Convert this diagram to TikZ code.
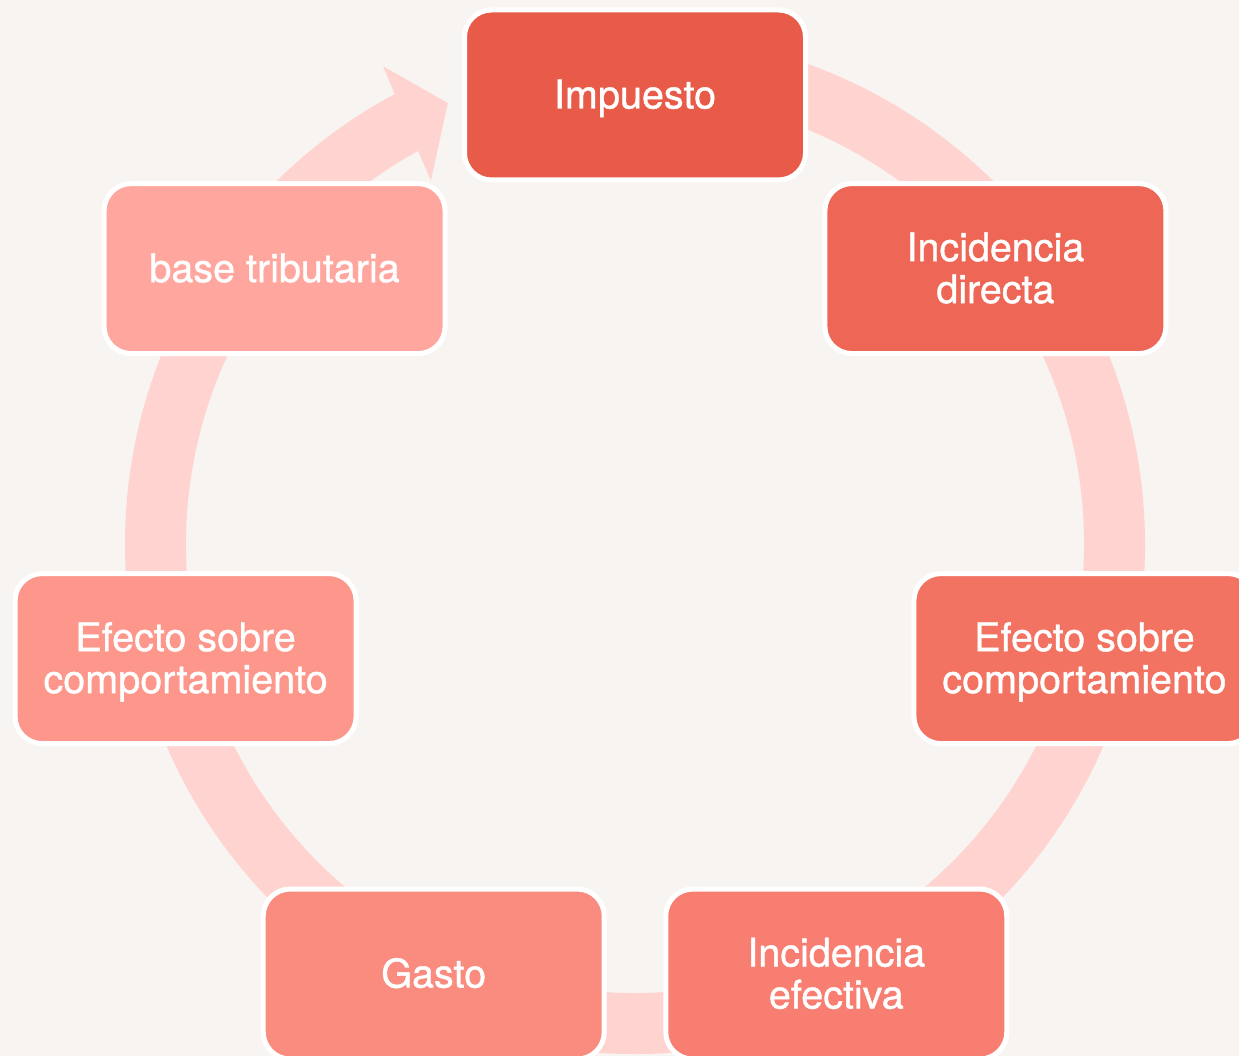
\documentclass[tikz,border=0pt]{standalone}
\usepackage{fontspec}
\setmainfont{TeX Gyre Heros}[FakeBold=1]
\definecolor{fondo}{HTML}{F8F4F1}
\definecolor{anillo}{HTML}{FFD4D0}
\definecolor{c1}{HTML}{E85B48}
\definecolor{c2}{HTML}{EE6656}
\definecolor{c3}{HTML}{F37363}
\definecolor{c4}{HTML}{F77E71}
\definecolor{c5}{HTML}{FA8B7F}
\definecolor{c6}{HTML}{FD978C}
\definecolor{c7}{HTML}{FFA69E}
\begin{document}
\begin{tikzpicture}[x=1pt,y=1pt]
    \tikzset{caja/.style={draw=white,line width=5pt,rounded corners=27pt,minimum
        width=341pt,minimum height=170pt,inner sep=0pt,text=white,align=center,
        font=\fontsize{39.5}{42}\selectfont,text depth=8pt},
      una/.style={caja,text height=35pt},dos/.style={caja,text height=77pt}}
    \fill[fondo] (0,0) rectangle (1239,1056);
    \useasboundingbox (0,0) rectangle (1239,1056);

    % anillo con la flecha
    \begin{scope}[shift={(635,512)}]
      \fill[anillo] (95:510) arc[start angle=95,end angle=-241.9,radius=510]
        -- (117.8:540) -- (113:479) -- (119.3:417) -- (118.9:449)
        arc[start angle=-241.1,end angle=95,radius=449] -- cycle;
    \end{scope}

    \begin{scope}[shift={(635,500)}]
      \node[una,fill=c1] (imp) at (90:461) {Impuesto};
      \node[dos,fill=c2] (dir) at (38.57:461) {Incidencia\\directa};
      \node[dos,fill=c3] (efd) at (-12.86:461) {Efecto sobre\\comportamiento};
      \node[dos,fill=c4] (efe) at (-64.29:464) {Incidencia\\efectiva};
      \node[una,fill=c5] (gas) at (-115.71:464) {Gasto};
      \node[dos,fill=c6] (efi) at (-167.14:461) {Efecto sobre\\comportamiento};
      \node[una,fill=c7] (base) at (141.43:461) {base tributaria};
    \end{scope}
\end{tikzpicture}
\end{document}
